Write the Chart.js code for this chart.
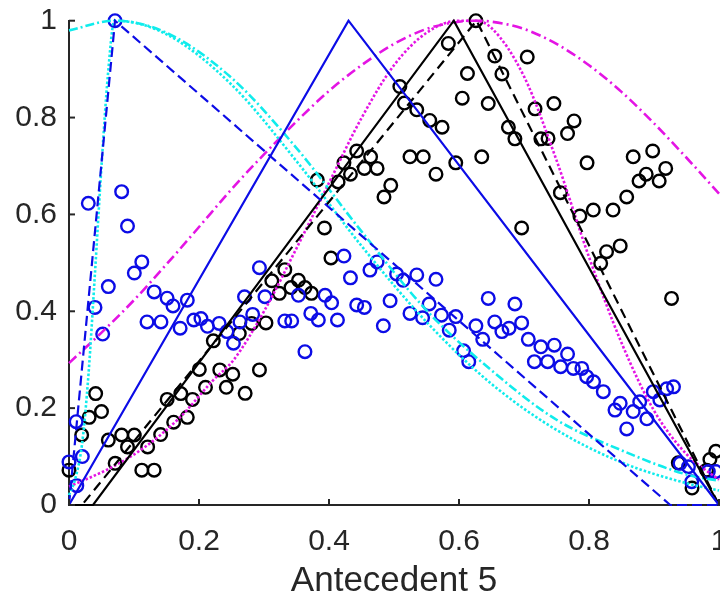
<!DOCTYPE html>
<html>
<head>
<meta charset="utf-8">
<script src="https://cdn.jsdelivr.net/npm/chart.js@4.4.1/dist/chart.umd.min.js"></script>
<style>
  html, body { margin: 0; padding: 0; background: #fff; }
  #wrap { width: 720px; height: 601px; }
</style>
</head>
<body>
<div id="wrap"><canvas id="chart" width="720" height="601"></canvas></div>
<script>
// ---- data ----
var xTicks = [0, 0.2, 0.4, 0.6, 0.8, 1];
var yTicks = [0, 0.2, 0.4, 0.6, 0.8, 1];

// black samples
var blackX = [0.0, 0.0195, 0.031, 0.041, 0.050, 0.0605, 0.071, 0.081, 0.090, 0.1005, 0.112, 0.131, 0.121, 0.141,
  0.161, 0.182, 0.151, 0.172, 0.190, 0.210, 0.242, 0.2005, 0.232, 0.252, 0.222, 0.271, 0.293, 0.262, 0.281, 0.303,
  0.312, 0.3236, 0.332, 0.3415, 0.353, 0.363, 0.373, 0.393, 0.403, 0.382, 0.414, 0.423, 0.433, 0.4426, 0.4544,
  0.464, 0.474, 0.4846, 0.495, 0.509, 0.516, 0.535, 0.5246, 0.545, 0.555, 0.5646, 0.574, 0.5836, 0.595, 0.605,
  0.613, 0.626, 0.635, 0.645, 0.655, 0.666, 0.676, 0.686, 0.6964, 0.705, 0.717, 0.726, 0.737, 0.746, 0.756, 0.767,
  0.777, 0.786, 0.797, 0.8066, 0.818, 0.827, 0.837, 0.848, 0.858, 0.868, 0.877, 0.888, 0.898, 0.908, 0.918, 0.927,
  0.9374, 0.9585, 0.981, 0.986, 0.995];
var blackY = [0.072, 0.1445, 0.181, 0.230, 0.193, 0.134, 0.086, 0.1445, 0.120, 0.1445, 0.072, 0.072, 0.120, 0.1455,
  0.171, 0.181, 0.218, 0.230, 0.218, 0.243, 0.243, 0.280, 0.279, 0.270, 0.339, 0.2305, 0.279, 0.354, 0.375, 0.376,
  0.463, 0.437, 0.486, 0.449, 0.464, 0.449, 0.437, 0.572, 0.510, 0.671, 0.667, 0.7065, 0.683, 0.731, 0.695,
  0.719, 0.695, 0.636, 0.660, 0.864, 0.830, 0.816, 0.719, 0.719, 0.794, 0.683, 0.780, 0.953, 0.7065, 0.840,
  0.891, 1.0, 0.719, 0.829, 0.927, 0.890, 0.780, 0.756, 0.572, 0.925, 0.818, 0.756, 0.757, 0.829, 0.645, 0.767,
  0.793, 0.5965, 0.7065, 0.609, 0.499, 0.523, 0.609, 0.535, 0.636, 0.719, 0.669, 0.683, 0.731, 0.669, 0.695, 0.4266,
  0.087, 0.035, 0.072, 0.094, 0.111];

// blue samples
var blueX = [0.0, 0.011, 0.012, 0.0205, 0.0297, 0.040, 0.0518, 0.0605, 0.0708, 0.081, 0.090, 0.1005, 0.112, 0.120,
  0.131, 0.1415, 0.151, 0.160, 0.171, 0.182, 0.192, 0.203, 0.213, 0.231, 0.243, 0.253, 0.263, 0.270, 0.2826, 0.293,
  0.3015, 0.332, 0.3426, 0.353, 0.363, 0.372, 0.3836, 0.394, 0.404, 0.413, 0.423, 0.433, 0.4426, 0.4544, 0.463,
  0.474, 0.4836, 0.494, 0.504, 0.514, 0.5246, 0.535, 0.544, 0.554, 0.5646, 0.573, 0.585, 0.595, 0.607, 0.615,
  0.626, 0.6365, 0.645, 0.655, 0.666, 0.677, 0.686, 0.6964, 0.7066, 0.716, 0.726, 0.7364, 0.7466, 0.7564, 0.767,
  0.776, 0.789, 0.7964, 0.807, 0.822, 0.84, 0.848, 0.858, 0.868, 0.878, 0.889, 0.899, 0.909, 0.9195, 0.93,
  0.94, 0.953, 0.958, 0.9836, 0.995];
var blueY = [0.089, 0.172, 0.040, 0.100, 0.623, 0.408, 0.353, 0.451, 1.0, 0.647, 0.576, 0.479, 0.502, 0.378,
  0.440, 0.378, 0.427, 0.411, 0.365, 0.423, 0.382, 0.385, 0.369, 0.375, 0.358, 0.334, 0.378, 0.430, 0.3936, 0.490,
  0.430, 0.380, 0.380, 0.433, 0.3165, 0.3956, 0.382, 0.433, 0.4175, 0.382, 0.514, 0.469, 0.413, 0.408, 0.485,
  0.502, 0.370, 0.4217, 0.477, 0.464, 0.3956, 0.475, 0.3866, 0.415, 0.466, 0.392, 0.361, 0.389, 0.3185, 0.296,
  0.370, 0.342, 0.4266, 0.378, 0.358, 0.365, 0.415, 0.376, 0.342, 0.296, 0.3267, 0.296, 0.330, 0.2855, 0.3117,
  0.282, 0.282, 0.265, 0.2545, 0.234, 0.196, 0.210, 0.157, 0.193, 0.213, 0.178, 0.234, 0.217, 0.240, 0.244,
  0.086, 0.079, 0.048, 0.069, 0.069];

// triangular memberships (corner points)
var blueSolidX = [0, 0.43, 1];
var blueSolidY = [0, 1, 0];
var blueDashX = [0, 0.0708, 0.925, 1];
var blueDashY = [0, 1, 0, 0];
var blackSolidX = [0, 0.037, 0.592, 1];
var blackSolidY = [0, 0, 1, 0];
var blackDashX = [0, 0.02, 0.627, 1];
var blackDashY = [0, 0, 1, 0];

// smooth memberships
var cyanDashX = [0, 0.07, 0.15, 0.25, 0.35, 0.45, 0.55, 0.65, 0.75, 0.85, 0.95, 1];
var cyanDashY = [0.98, 1, 0.975, 0.882, 0.737, 0.565, 0.402, 0.278, 0.176, 0.113, 0.063, 0.05];
var cyanDotX = [0, 0.01, 0.02, 0.03, 0.04, 0.05, 0.06, 0.07, 0.15, 0.25, 0.35, 0.45, 0.55, 0.65, 0.75, 0.85, 0.95, 1];
var cyanDotY = [0.02, 0.056, 0.125, 0.27, 0.48, 0.70, 0.89, 1, 0.972, 0.868, 0.71, 0.535, 0.378, 0.25, 0.155, 0.088, 0.045, 0.03];
var magDashX = [0, 0.05, 0.1, 0.15, 0.2, 0.25, 0.3, 0.35, 0.4, 0.45, 0.5, 0.55, 0.6, 0.625, 0.65, 0.7, 0.75, 0.8, 0.85, 0.9, 0.95, 1];
var magDashY = [0.293, 0.356, 0.423, 0.497, 0.574, 0.652, 0.724, 0.792, 0.855, 0.908, 0.952, 0.983, 0.998, 1, 0.998, 0.983, 0.952, 0.908, 0.853, 0.788, 0.717, 0.643];
var magDotX = [0, 0.063, 0.114, 0.17, 0.222, 0.253, 0.3, 0.35, 0.4, 0.45, 0.5, 0.55, 0.6, 0.625, 0.65, 0.7, 0.75, 0.8, 0.85, 0.9, 0.95, 1];
var magDotY = [0.038, 0.076, 0.117, 0.18, 0.258, 0.299, 0.40, 0.53, 0.665, 0.799, 0.908, 0.975, 1, 1, 0.985, 0.885, 0.712, 0.512, 0.335, 0.195, 0.105, 0.052];

function pts(xs, ys) {
  return xs.map(function(x, i) { return { x: x, y: ys[i] }; });
}

var BLUE = '#0c0ce6';
var CYAN = '#10ecec';
var MAG = '#e414e4';
var AXIS = '#262626';
var FONT = 'Liberation Sans, Arial, Helvetica, sans-serif';

function lineSet(xs, ys, color, dash, smooth, width) {
  return {
    data: pts(xs, ys),
    showLine: true,
    borderColor: color,
    borderWidth: width,
    borderDash: dash,
    pointRadius: 0,
    fill: false,
    tension: 0,
    cubicInterpolationMode: smooth ? 'monotone' : 'default',
    clip: false
  };
}

function markerSet(xs, ys, color) {
  return {
    data: pts(xs, ys),
    showLine: false,
    pointStyle: 'circle',
    pointRadius: 6.3,
    pointBorderWidth: 2.4,
    borderColor: color,
    pointBorderColor: color,
    backgroundColor: 'rgba(0,0,0,0)',
    pointBackgroundColor: 'rgba(0,0,0,0)',
    clip: false
  };
}

// MATLAB style ticks pointing into the axes
var innerTicks = {
  id: 'innerTicks',
  afterDraw: function(chart) {
    var ctx = chart.ctx;
    var a = chart.chartArea;
    var xs = chart.scales.x, ys = chart.scales.y;
    ctx.save();
    ctx.strokeStyle = AXIS;
    ctx.lineWidth = 2;
    xTicks.forEach(function(v) {
      var px = xs.getPixelForValue(v);
      ctx.beginPath(); ctx.moveTo(px, a.bottom); ctx.lineTo(px, a.bottom - 6); ctx.stroke();
    });
    yTicks.forEach(function(v) {
      var py = ys.getPixelForValue(v);
      ctx.beginPath(); ctx.moveTo(a.left, py); ctx.lineTo(a.left + 6, py); ctx.stroke();
    });
    ctx.restore();
  }
};

var ctx = document.getElementById('chart').getContext('2d');
new Chart(ctx, {
  type: 'scatter',
  data: {
    datasets: [
      lineSet(blueSolidX, blueSolidY, BLUE, [], false, 2.2),
      lineSet(blueDashX, blueDashY, BLUE, [10, 5], false, 2.2),
      lineSet(blackSolidX, blackSolidY, '#000', [], false, 2.2),
      lineSet(blackDashX, blackDashY, '#000', [10, 6], false, 2.2),
      lineSet(cyanDashX, cyanDashY, CYAN, [9, 3, 2, 3], true, 2.6),
      lineSet(cyanDotX, cyanDotY, CYAN, [2.5, 2], true, 2.6),
      lineSet(magDashX, magDashY, MAG, [10, 4, 2, 4], true, 2.6),
      lineSet(magDotX, magDotY, MAG, [2.5, 2], true, 2.6),
      markerSet(blueX, blueY, BLUE),
      markerSet(blackX, blackY, '#000')
    ]
  },
  options: {
    responsive: false,
    animation: false,
    events: [],
    layout: { autoPadding: false, padding: { top: 20.7, right: 1, left: 0, bottom: 0 } },
    plugins: { legend: { display: false }, tooltip: { enabled: false } },
    scales: {
      x: {
        type: 'linear', position: 'bottom', min: 0, max: 1,
        grid: { display: false, drawTicks: false },
        border: { display: true, color: AXIS, width: 2 },
        afterBuildTicks: function(s) { s.ticks = xTicks.map(function(v) { return { value: v }; }); },
        afterFit: function(s) { s.height = 96; s.paddingLeft = 0; s.paddingRight = 0; },
        ticks: {
          color: AXIS, padding: 19, maxRotation: 0, autoSkip: false,
          font: { family: FONT, size: 30 },
          callback: function(v) { return String(v); }
        },
        title: {
          display: true, text: 'Antecedent 5', color: AXIS,
          font: { family: FONT, size: 35, lineHeight: 1 },
          padding: { top: 0, bottom: 2 }
        }
      },
      y: {
        type: 'linear', position: 'left', min: 0, max: 1,
        grid: { display: false, drawTicks: false },
        border: { display: true, color: AXIS, width: 2 },
        afterBuildTicks: function(s) { s.ticks = yTicks.map(function(v) { return { value: v }; }); },
        afterFit: function(s) { s.width = 69; s.paddingTop = 0; s.paddingBottom = 0; },
        ticks: {
          color: AXIS, padding: 12, autoSkip: false,
          font: { family: FONT, size: 30 },
          callback: function(v) { return String(v); }
        }
      }
    }
  },
  plugins: [innerTicks]
});
</script>
</body>
</html>
